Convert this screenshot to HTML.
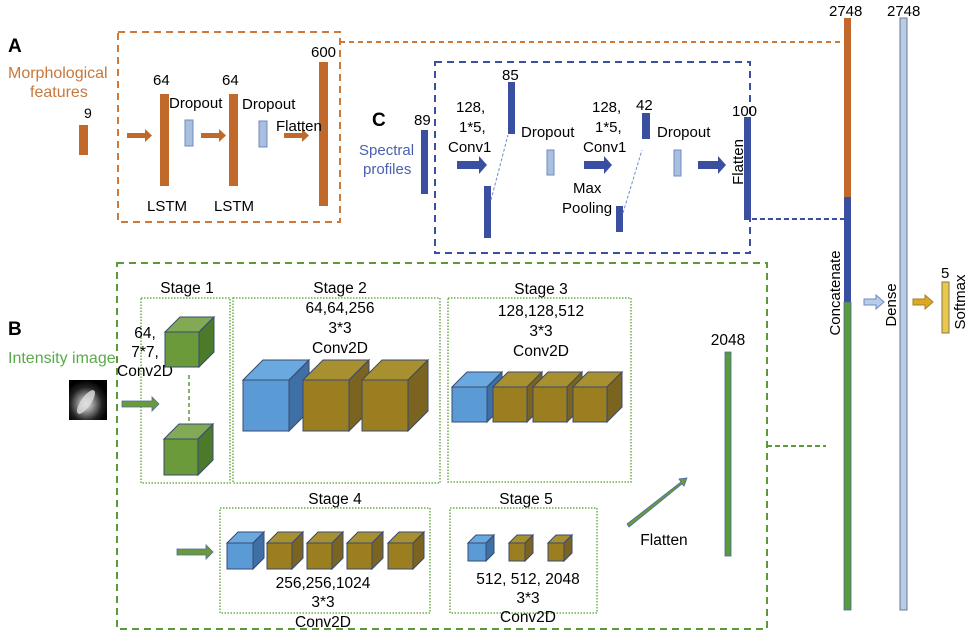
<!DOCTYPE html>
<html><head><meta charset="utf-8"><style>
html,body{margin:0;padding:0;background:#fff;}
svg{display:block;font-family:"Liberation Sans",Arial,sans-serif;}
</style></head><body>
<svg width="970" height="635" viewBox="0 0 970 635" xmlns="http://www.w3.org/2000/svg">
<defs>
<radialGradient id="img" cx="0.45" cy="0.6" r="0.6">
<stop offset="0" stop-color="#eee"/><stop offset="0.3" stop-color="#999"/><stop offset="0.7" stop-color="#222"/><stop offset="1" stop-color="#000"/>
</radialGradient>
</defs>

<!-- Section A -->
<text x="8" y="52" font-size="19" font-weight="bold">A</text>
<text x="8" y="78" font-size="16" fill="#c8773a">Morphological</text>
<text x="30" y="97" font-size="16" fill="#c8773a">features</text>
<text x="84" y="118" font-size="14">9</text>
<rect x="79" y="125" width="9" height="30" fill="#c0692a"/>
<rect x="118" y="32" width="222" height="190" fill="none" stroke="#d0783a" stroke-width="2" stroke-dasharray="7,5"/>
<line x1="340" y1="42" x2="844" y2="42" stroke="#d0783a" stroke-width="2" stroke-dasharray="5,4"/>
<g fill="#c0692a">
<rect x="127" y="133" width="18" height="5"/><polygon points="145,129 152,135.5 145,142"/>
<rect x="201" y="133" width="18" height="5"/><polygon points="219,129 226,135.5 219,142"/>
<rect x="284" y="133" width="18" height="5"/><polygon points="302,129 309,135.5 302,142"/>
<rect x="160" y="94" width="9" height="92"/>
<rect x="229" y="94" width="9" height="92"/>
<rect x="319" y="62" width="9" height="144"/>
</g>
<rect x="185" y="120" width="8" height="26" fill="#a8bfe0" stroke="#6f8bc0"/>
<rect x="259" y="121" width="8" height="26" fill="#a8bfe0" stroke="#6f8bc0"/>
<g font-size="15">
<text x="153" y="85">64</text><text x="222" y="85">64</text>
<text x="311" y="57">600</text>
<text x="169" y="108">Dropout</text><text x="242" y="109">Dropout</text>
<text x="276" y="131">Flatten</text>
<text x="147" y="211">LSTM</text><text x="214" y="211">LSTM</text>
</g>

<!-- Section C -->
<text x="372" y="126" font-size="19" font-weight="bold">C</text>
<text x="414" y="125" font-size="15">89</text>
<text x="359" y="155" font-size="15" fill="#4a5fb0">Spectral</text>
<text x="363" y="174" font-size="15" fill="#4a5fb0">profiles</text>
<rect x="421" y="130" width="7" height="64" fill="#3a4fa0"/>
<rect x="435" y="62" width="315" height="191" fill="none" stroke="#3a4fa0" stroke-width="2" stroke-dasharray="7,5"/>
<line x1="752" y1="219" x2="844" y2="219" stroke="#3a4fa0" stroke-width="2" stroke-dasharray="5,3"/>
<g fill="#3a4fa0">
<rect x="457" y="161" width="22" height="8"/><polygon points="479,156 487,165 479,174"/>
<rect x="584" y="161" width="20" height="8"/><polygon points="604,156 612,165 604,174"/>
<rect x="698" y="161" width="20" height="8"/><polygon points="718,156 726,165 718,174"/>
<rect x="508" y="82" width="7" height="52"/>
<rect x="484" y="186" width="7" height="52"/>
<rect x="642" y="113" width="8" height="26"/>
<rect x="616" y="206" width="7" height="26"/>
<rect x="744" y="117" width="7" height="103"/>
</g>
<line x1="491" y1="200" x2="508" y2="135" stroke="#6f8bd0" stroke-width="1" stroke-dasharray="3,2"/>
<line x1="623" y1="213" x2="642" y2="150" stroke="#6f8bd0" stroke-width="1" stroke-dasharray="3,2"/>
<rect x="547" y="150" width="7" height="25" fill="#a8bfe0" stroke="#6f8bc0"/>
<rect x="674" y="150" width="7" height="26" fill="#a8bfe0" stroke="#6f8bc0"/>
<g font-size="15">
<text x="456" y="112">128,</text><text x="459" y="132">1*5,</text><text x="448" y="152">Conv1</text>
<text x="502" y="80">85</text>
<text x="521" y="137">Dropout</text>
<text x="592" y="112">128,</text><text x="595" y="132">1*5,</text><text x="583" y="152">Conv1</text>
<text x="636" y="110">42</text>
<text x="657" y="137">Dropout</text>
<text x="573" y="193">Max</text><text x="562" y="213">Pooling</text>
<text x="732" y="116">100</text>
<text x="0" y="0" transform="translate(739,162) rotate(-90)" text-anchor="middle" dominant-baseline="middle">Flatten</text>
</g>

<!-- Right column -->
<rect x="844" y="18" width="7" height="180" fill="#c0692a"/>
<rect x="844" y="197" width="7" height="106" fill="#3a4fa0"/>
<rect x="844" y="302" width="7" height="308" fill="#5a9a3a" stroke="#4a6aa0" stroke-width="0.8"/>
<rect x="900" y="18" width="7" height="592" fill="#b8cce8" stroke="#6a7a90" stroke-width="1"/>
<rect x="942" y="282" width="7" height="51" fill="#e8c850" stroke="#8a7a40" stroke-width="1"/>
<g font-size="15">
<text x="829" y="16">2748</text><text x="887" y="16">2748</text>
<text x="941" y="278">5</text>
<text x="0" y="0" transform="translate(836,293) rotate(-90)" text-anchor="middle" dominant-baseline="middle">Concatenate</text>
<text x="0" y="0" transform="translate(892,305) rotate(-90)" text-anchor="middle" dominant-baseline="middle">Dense</text>
<text x="0" y="0" transform="translate(961,302) rotate(-90)" text-anchor="middle" dominant-baseline="middle">Softmax</text>
</g>
<polygon points="864,299 876,299 876,295 884,302 876,309 876,305 864,305" fill="#b8cce8" stroke="#6f8bc0"/>
<polygon points="913,299 925,299 925,295 933,302 925,309 925,305 913,305" fill="#e0a820" stroke="#a08030"/>

<!-- Section B -->
<text x="8" y="335" font-size="19" font-weight="bold">B</text>
<text x="8" y="363" font-size="16" fill="#5aaa4a">Intensity image</text>
<rect x="69" y="380" width="38" height="40" fill="url(#img)"/>
<ellipse cx="86" cy="402" rx="5" ry="14" transform="rotate(35 86 402)" fill="#ddd" opacity="0.8"/>

<rect x="117" y="263" width="650" height="366" fill="none" stroke="#5a9a3a" stroke-width="2" stroke-dasharray="7,5"/>
<line x1="767" y1="446" x2="826" y2="446" stroke="#5a9a3a" stroke-width="2" stroke-dasharray="5,3"/>

<g fill="none" stroke="#6ab04a" stroke-width="1.5" stroke-dasharray="1.5,1.5">
<rect x="141" y="298" width="89" height="185"/>
<rect x="233" y="298" width="207" height="185"/>
<rect x="448" y="298" width="183" height="184"/>
<rect x="220" y="508" width="210" height="105"/>
<rect x="450" y="508" width="147" height="105"/>
</g>
<line x1="189" y1="375" x2="189" y2="425" stroke="#5a9a3a" stroke-width="1.5" stroke-dasharray="4,3"/>

<g font-size="15.5" text-anchor="middle">
<text x="187" y="293">Stage 1</text>
<text x="340" y="293">Stage 2</text>
<text x="340" y="313">64,64,256</text><text x="340" y="333">3*3</text><text x="340" y="353">Conv2D</text>
<text x="541" y="294">Stage 3</text>
<text x="541" y="316">128,128,512</text><text x="541" y="336">3*3</text><text x="541" y="356">Conv2D</text>
<text x="335" y="504">Stage 4</text>
<text x="323" y="588">256,256,1024</text><text x="323" y="607">3*3</text><text x="323" y="627">Conv2D</text>
<text x="526" y="504">Stage 5</text>
<text x="528" y="584">512, 512, 2048</text><text x="528" y="603">3*3</text><text x="528" y="622">Conv2D</text>
<text x="145" y="338">64,</text><text x="145" y="357">7*7,</text><text x="145" y="376">Conv2D</text>
<text x="664" y="545">Flatten</text>
<text x="728" y="345">2048</text>
</g>

<!-- green arrows -->
<g fill="#6a9a3a" stroke="#4a6aa0" stroke-width="0.8">
<polygon points="122,401 152,401 152,397 159,404 152,411 152,407 122,407"/>
<polygon points="177,549 206,549 206,545 213,552 206,559 206,555 177,555"/>
<polygon points="627,524 681,482 679,479 687,478 684,486 682,484 629,527"/>
</g>
<rect x="725" y="352" width="6" height="204" fill="#5a9a3a" stroke="#4a6aa0" stroke-width="0.8"/>

<!-- cubes -->
<g stroke="#3a4a70" stroke-width="1">
<rect x="165" y="332" width="34" height="35" fill="#6a9a3a"/>
<polygon points="165,332 180,317 214,317 199,332" fill="#82aa55"/>
<polygon points="199,332 214,317 214,352 199,367" fill="#4a7a2a"/>
<rect x="164" y="439" width="34" height="36" fill="#6a9a3a"/>
<polygon points="164,439 179,424 213,424 198,439" fill="#82aa55"/>
<polygon points="198,439 213,424 213,460 198,475" fill="#4a7a2a"/>
<rect x="243" y="380" width="46" height="51" fill="#5b9bd5"/>
<polygon points="243,380 263,360 309,360 289,380" fill="#6aa8e0"/>
<polygon points="289,380 309,360 309,411 289,431" fill="#3e6fa5"/>
<rect x="303" y="380" width="46" height="51" fill="#9a7e20"/>
<polygon points="303,380 323,360 369,360 349,380" fill="#a89030"/>
<polygon points="349,380 369,360 369,411 349,431" fill="#7a6420"/>
<rect x="362" y="380" width="46" height="51" fill="#9a7e20"/>
<polygon points="362,380 382,360 428,360 408,380" fill="#a89030"/>
<polygon points="408,380 428,360 428,411 408,431" fill="#7a6420"/>
<rect x="452" y="387" width="35" height="35" fill="#5b9bd5"/>
<polygon points="452,387 467,372 502,372 487,387" fill="#6aa8e0"/>
<polygon points="487,387 502,372 502,407 487,422" fill="#3e6fa5"/>
<rect x="493" y="387" width="34" height="35" fill="#9a7e20"/>
<polygon points="493,387 508,372 542,372 527,387" fill="#a89030"/>
<polygon points="527,387 542,372 542,407 527,422" fill="#7a6420"/>
<rect x="533" y="387" width="34" height="35" fill="#9a7e20"/>
<polygon points="533,387 548,372 582,372 567,387" fill="#a89030"/>
<polygon points="567,387 582,372 582,407 567,422" fill="#7a6420"/>
<rect x="573" y="387" width="34" height="35" fill="#9a7e20"/>
<polygon points="573,387 588,372 622,372 607,387" fill="#a89030"/>
<polygon points="607,387 622,372 622,407 607,422" fill="#7a6420"/>
<rect x="227" y="543" width="26" height="26" fill="#5b9bd5"/>
<polygon points="227,543 238,532 264,532 253,543" fill="#6aa8e0"/>
<polygon points="253,543 264,532 264,558 253,569" fill="#3e6fa5"/>
<rect x="267" y="543" width="25" height="26" fill="#9a7e20"/>
<polygon points="267,543 278,532 303,532 292,543" fill="#a89030"/>
<polygon points="292,543 303,532 303,558 292,569" fill="#7a6420"/>
<rect x="307" y="543" width="25" height="26" fill="#9a7e20"/>
<polygon points="307,543 318,532 343,532 332,543" fill="#a89030"/>
<polygon points="332,543 343,532 343,558 332,569" fill="#7a6420"/>
<rect x="347" y="543" width="25" height="26" fill="#9a7e20"/>
<polygon points="347,543 358,532 383,532 372,543" fill="#a89030"/>
<polygon points="372,543 383,532 383,558 372,569" fill="#7a6420"/>
<rect x="388" y="543" width="25" height="26" fill="#9a7e20"/>
<polygon points="388,543 399,532 424,532 413,543" fill="#a89030"/>
<polygon points="413,543 424,532 424,558 413,569" fill="#7a6420"/>
<rect x="468" y="543" width="18" height="18" fill="#5b9bd5"/>
<polygon points="468,543 476,535 494,535 486,543" fill="#6aa8e0"/>
<polygon points="486,543 494,535 494,553 486,561" fill="#3e6fa5"/>
<rect x="509" y="543" width="16" height="18" fill="#9a7e20"/>
<polygon points="509,543 517,535 533,535 525,543" fill="#a89030"/>
<polygon points="525,543 533,535 533,553 525,561" fill="#7a6420"/>
<rect x="548" y="543" width="16" height="18" fill="#9a7e20"/>
<polygon points="548,543 556,535 572,535 564,543" fill="#a89030"/>
<polygon points="564,543 572,535 572,553 564,561" fill="#7a6420"/>
</g>
</svg>
</body></html>
